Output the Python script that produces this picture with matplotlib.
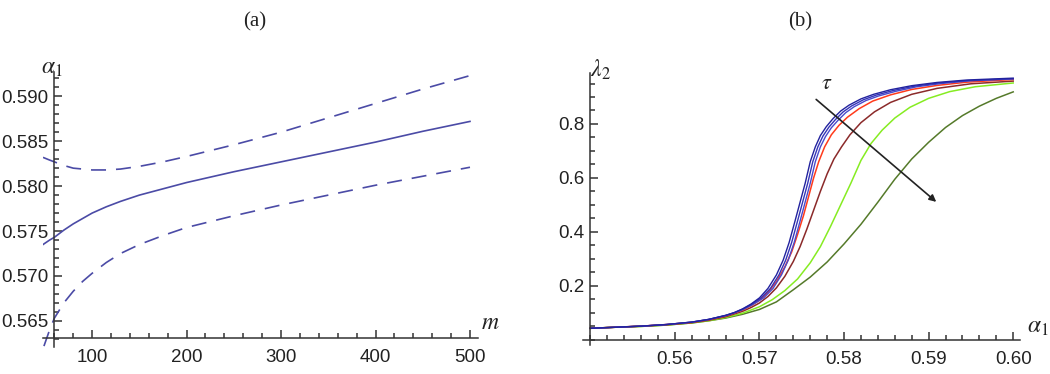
import numpy as np
import matplotlib.pyplot as plt
from matplotlib.ticker import MultipleLocator

# DATA -------------------

# panel (a): alpha_1 vs m, estimate and band
m_solid = [48, 55, 60, 70, 80, 90, 100, 115, 130, 150, 175, 200, 225, 250,
           300, 350, 400, 450, 500]
alpha_solid = [0.5735, 0.5740, 0.5743, 0.5751, 0.5758, 0.5764, 0.5770, 0.5777,
               0.5783, 0.5790, 0.5797, 0.5804, 0.5810, 0.5816, 0.5827, 0.5838,
               0.5849, 0.5861, 0.5872]

m_upper = [48, 55, 60, 70, 80, 90, 100, 115, 130, 150, 175, 200, 250, 300,
           350, 400, 450, 500]
alpha_upper = [0.5832, 0.5829, 0.5827, 0.5823, 0.5820, 0.5819, 0.5818, 0.5818,
               0.5819, 0.5822, 0.5827, 0.5833, 0.5846, 0.5860, 0.5876, 0.5892,
               0.5908, 0.5923]

m_lower = [49, 55, 60, 70, 80, 90, 100, 115, 130, 150, 175, 200, 250, 300,
           350, 400, 450, 500]
alpha_lower = [0.5622, 0.5640, 0.5653, 0.5670, 0.5683, 0.5694, 0.5703, 0.5715,
               0.5725, 0.5735, 0.5745, 0.5754, 0.5767, 0.5779, 0.5790, 0.5801,
               0.5811, 0.5821]

# panel (b): lambda_2 vs alpha_1 for several tau
a_blue1 = [0.550, 0.553, 0.556, 0.559, 0.562, 0.564, 0.566, 0.567, 0.568, 0.569,
           0.570, 0.571, 0.572, 0.5728, 0.5735, 0.5742, 0.5748, 0.5754, 0.5760,
           0.5766, 0.5772, 0.5779, 0.5787, 0.5796, 0.5806, 0.5820, 0.5835,
           0.5855, 0.5880, 0.5910, 0.5945, 0.6000]
l_blue1 = [0.042, 0.046, 0.050, 0.056, 0.065, 0.075, 0.090, 0.100, 0.114, 0.132,
           0.155, 0.190, 0.240, 0.295, 0.360, 0.440, 0.510, 0.580, 0.660,
           0.715, 0.757, 0.790, 0.820, 0.848, 0.870, 0.893, 0.910,
           0.927, 0.942, 0.954, 0.963, 0.970]

a_blue2 = [0.550, 0.553, 0.556, 0.559, 0.562, 0.564, 0.566, 0.567, 0.568, 0.569,
           0.5702, 0.5713, 0.5723, 0.5731, 0.5738, 0.5745, 0.5751, 0.5757, 0.5763,
           0.5769, 0.5775, 0.5782, 0.5790, 0.5799, 0.5809, 0.5823, 0.5838,
           0.5858, 0.5883, 0.5912, 0.5947, 0.6000]
l_blue2 = [0.042, 0.046, 0.050, 0.056, 0.065, 0.075, 0.090, 0.100, 0.113, 0.130,
           0.155, 0.190, 0.240, 0.295, 0.360, 0.440, 0.510, 0.580, 0.660,
           0.715, 0.755, 0.788, 0.817, 0.845, 0.867, 0.890, 0.907,
           0.924, 0.940, 0.952, 0.961, 0.968]

a_blue3 = [0.550, 0.553, 0.556, 0.559, 0.562, 0.564, 0.566, 0.567, 0.568, 0.5692,
           0.5705, 0.5716, 0.5726, 0.5734, 0.5741, 0.5748, 0.5754, 0.5760, 0.5766,
           0.5772, 0.5778, 0.5785, 0.5793, 0.5802, 0.5812, 0.5826, 0.5841,
           0.5861, 0.5886, 0.5915, 0.5949, 0.6000]
l_blue3 = [0.042, 0.046, 0.050, 0.056, 0.065, 0.075, 0.089, 0.099, 0.111, 0.130,
           0.155, 0.190, 0.240, 0.295, 0.360, 0.440, 0.510, 0.580, 0.660,
           0.715, 0.753, 0.786, 0.814, 0.842, 0.864, 0.887, 0.904,
           0.921, 0.938, 0.950, 0.960, 0.967]

a_red = [0.550, 0.553, 0.556, 0.559, 0.562, 0.564, 0.566, 0.567, 0.568, 0.569,
         0.570, 0.571, 0.572, 0.573, 0.5738, 0.5745, 0.5752, 0.5758, 0.5764,
         0.5770, 0.5777, 0.5785, 0.5794, 0.5804, 0.5818, 0.5834, 0.5855,
         0.5880, 0.5910, 0.5945, 0.6000]
l_red = [0.042, 0.046, 0.050, 0.056, 0.064, 0.074, 0.088, 0.098, 0.110, 0.126,
         0.146, 0.175, 0.215, 0.270, 0.325, 0.390, 0.460, 0.530, 0.600,
         0.660, 0.715, 0.760, 0.795, 0.825, 0.857, 0.885, 0.908,
         0.928, 0.943, 0.955, 0.965]

a_brown = [0.550, 0.553, 0.556, 0.559, 0.562, 0.564, 0.566, 0.568, 0.569, 0.570,
           0.571, 0.572, 0.573, 0.574, 0.5748, 0.5756, 0.5764, 0.5772, 0.5780,
           0.5788, 0.5797, 0.5807, 0.5820, 0.5836, 0.5855, 0.5880, 0.5910,
           0.5950, 0.6000]
l_brown = [0.042, 0.046, 0.050, 0.055, 0.063, 0.072, 0.085, 0.105, 0.119, 0.136,
           0.160, 0.192, 0.235, 0.290, 0.345, 0.410, 0.480, 0.550, 0.615,
           0.670, 0.715, 0.760, 0.805, 0.845, 0.880, 0.910, 0.932,
           0.949, 0.959]

a_lime = [0.550, 0.553, 0.556, 0.559, 0.562, 0.564, 0.566, 0.568, 0.570, 0.5715,
          0.573, 0.5745, 0.576, 0.5772, 0.5784, 0.5796, 0.5808, 0.5820, 0.5832,
          0.5845, 0.5860, 0.5878, 0.5900, 0.5925, 0.5955, 0.6000]
l_lime = [0.042, 0.046, 0.049, 0.054, 0.062, 0.070, 0.082, 0.098, 0.122, 0.148,
          0.182, 0.225, 0.285, 0.345, 0.420, 0.500, 0.580, 0.665, 0.728,
          0.777, 0.822, 0.862, 0.895, 0.920, 0.938, 0.952]

a_olive = [0.550, 0.553, 0.556, 0.559, 0.562, 0.564, 0.566, 0.568, 0.570, 0.572,
           0.574, 0.576, 0.578, 0.580, 0.582, 0.584, 0.586, 0.588, 0.590, 0.592,
           0.594, 0.596, 0.598, 0.600]
l_olive = [0.042, 0.046, 0.049, 0.054, 0.062, 0.070, 0.080, 0.094, 0.112, 0.140,
           0.185, 0.232, 0.288, 0.355, 0.428, 0.510, 0.595, 0.670, 0.732, 0.787,
           0.831, 0.866, 0.895, 0.919]

# tau arrow (annotation)
arrow_start = (0.5767, 0.891)
arrow_end = (0.5909, 0.511)
tau_pos = (0.5779, 0.950)


# PLOTTING-------------

plt.rcParams.update({
    'font.family': ['Liberation Sans', 'DejaVu Sans'],
    'mathtext.fontset': 'stix',
    'xtick.labelsize': 13.5,
    'ytick.labelsize': 13.5,
})

AXC = '#333333'
TXT = '#222222'
LINEC = '#4b4ba6'

fig = plt.figure(figsize=(10.5, 3.74), dpi=100)
ax1 = fig.add_axes([0.04095, 0.0722, 0.4143, 0.7353])
ax2 = fig.add_axes([0.5550, 0.0775, 0.4164, 0.7273])


def style_axes(ax, x0, y0):
    for s in ['top', 'right']:
        ax.spines[s].set_visible(False)
    ax.spines['left'].set_position(('data', x0))
    ax.spines['bottom'].set_position(('data', y0))
    for s in ['left', 'bottom']:
        ax.spines[s].set_color(AXC)
        ax.spines[s].set_linewidth(1.1)
    ax.tick_params(which='both', direction='in', color=AXC, labelcolor=TXT, width=1.1)
    ax.tick_params(which='major', length=6)
    ax.tick_params(which='minor', length=3.5)
    ax.tick_params(axis='y', pad=4)
    ax.tick_params(axis='x', pad=8)
    ax.patch.set_visible(False)


# ---- Panel (a) ----
ax1.plot(m_solid, alpha_solid, color=LINEC, lw=1.2)
ax1.plot(m_upper, alpha_upper, color=LINEC, lw=1.2, dashes=(9, 6))
ax1.plot(m_lower, alpha_lower, color=LINEC, lw=1.2, dashes=(9, 6))
ax1.set_xlim(48, 508.5)
ax1.set_ylim(0.5621, 0.5927)
style_axes(ax1, 60, 0.5631)
ax1.set_xticks([100, 200, 300, 400, 500])
ax1.xaxis.set_minor_locator(MultipleLocator(20))
ax1.set_yticks([0.565, 0.570, 0.575, 0.580, 0.585, 0.590])
ax1.set_yticklabels(['0.565', '0.570', '0.575', '0.580', '0.585', '0.590'])
ax1.yaxis.set_minor_locator(MultipleLocator(0.001))

# ---- Panel (b) ----
ax2.plot(a_olive, l_olive, color='#557a2a', lw=1.1)
ax2.plot(a_lime, l_lime, color='#86ec22', lw=1.1)
ax2.plot(a_brown, l_brown, color='#8b2a2a', lw=1.1)
ax2.plot(a_red, l_red, color='#ff3b1c', lw=1.1)
ax2.plot(a_blue3, l_blue3, color='#4a4acc', lw=1.0)
ax2.plot(a_blue2, l_blue2, color='#3434b8', lw=1.0)
ax2.plot(a_blue1, l_blue1, color='#22229e', lw=1.0)
ax2.annotate('', xy=arrow_end, xytext=arrow_start,
             arrowprops=dict(arrowstyle='-|>', color='#222222', lw=1.2,
                             mutation_scale=10, shrinkA=0, shrinkB=0))
ax2.text(tau_pos[0], tau_pos[1], r'$\tau$', fontsize=16, color=TXT,
         ha='center', va='center')
ax2.set_xlim(0.5491, 0.6008)
ax2.set_ylim(-0.020, 0.989)
style_axes(ax2, 0.55, 0.0)
ax2.set_xticks([0.56, 0.57, 0.58, 0.59, 0.60])
ax2.set_xticklabels(['0.56', '0.57', '0.58', '0.59', '0.60'])
ax2.xaxis.set_minor_locator(MultipleLocator(0.002))
ax2.set_yticks([0.2, 0.4, 0.6, 0.8])
ax2.yaxis.set_minor_locator(MultipleLocator(0.05))

# axis labels and panel titles
fig.text(52 / 1050, 1 - 68 / 374, r'$\alpha_1$', fontsize=17, color=TXT,
         ha='center', va='center')
fig.text(490 / 1050, 1 - 323 / 374, r'$m$', fontsize=17, color=TXT,
         ha='center', va='center')
fig.text(600 / 1050, 1 - 70 / 374, r'$\lambda_2$', fontsize=17, color=TXT,
         ha='center', va='center')
fig.text(1038 / 1050, 1 - 327 / 374, r'$\alpha_1$', fontsize=17, color=TXT,
         ha='center', va='center')
fig.text(255 / 1050, 1 - 22 / 374, '(a)', fontsize=15, color=TXT,
         family='Liberation Serif', ha='center', va='center')
fig.text(800 / 1050, 1 - 22 / 374, '(b)', fontsize=15, color=TXT,
         family='Liberation Serif', ha='center', va='center')

fig.savefig('out.png', dpi=100)
